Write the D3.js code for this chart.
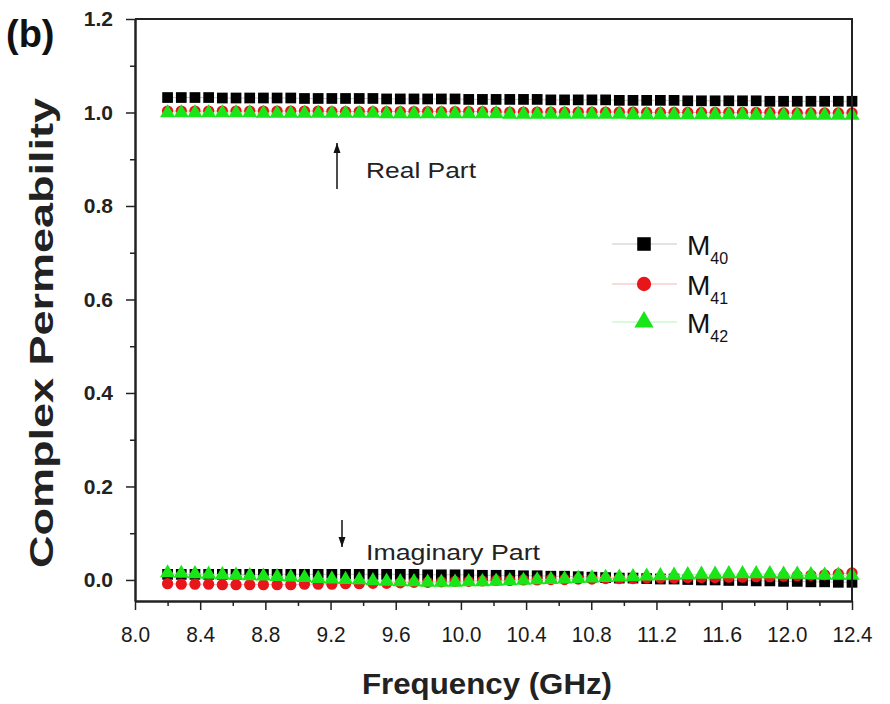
<!DOCTYPE html>
<html lang="en">
<head>
<meta charset="utf-8">
<title>Complex Permeability</title>
<script src="https://d3js.org/d3.v7.min.js"></script>
<style>
  body { margin: 0; background: #fff; }
  text { font-family: "Liberation Sans", Arial, sans-serif; }
</style>
</head>
<body>
<script>
const width = 890, height = 704;
const plotLeft = 135, plotRight = 852, plotTop = 19, plotBottom = 601;

// frequency points (GHz)
const freq = [8.200, 8.284, 8.368, 8.452, 8.536, 8.620, 8.704, 8.788, 8.872, 8.956,
              9.040, 9.124, 9.208, 9.292, 9.376, 9.460, 9.544, 9.628, 9.712, 9.796,
              9.880, 9.964, 10.048, 10.132, 10.216, 10.300, 10.384, 10.468, 10.552, 10.636,
              10.720, 10.804, 10.888, 10.972, 11.056, 11.140, 11.224, 11.308, 11.392, 11.476,
              11.560, 11.644, 11.728, 11.812, 11.896, 11.980, 12.064, 12.148, 12.232, 12.316, 12.400];

// real part
const realM40 = [1.032, 1.032, 1.032, 1.032, 1.031, 1.031, 1.031, 1.031, 1.031, 1.031,
                 1.030, 1.030, 1.030, 1.030, 1.030, 1.030, 1.029, 1.029, 1.029, 1.029,
                 1.029, 1.029, 1.028, 1.028, 1.028, 1.028, 1.028, 1.028, 1.027, 1.027,
                 1.027, 1.027, 1.027, 1.026, 1.026, 1.026, 1.026, 1.026, 1.025, 1.025,
                 1.025, 1.025, 1.025, 1.025, 1.024, 1.024, 1.024, 1.024, 1.024, 1.024, 1.024];
const realM41 = [1.003, 1.003, 1.003, 1.003, 1.003, 1.003, 1.003, 1.003, 1.003, 1.003,
                 1.003, 1.003, 1.002, 1.002, 1.002, 1.002, 1.002, 1.002, 1.002, 1.002,
                 1.002, 1.002, 1.002, 1.002, 1.001, 1.001, 1.001, 1.001, 1.001, 1.001,
                 1.001, 1.001, 1.001, 1.001, 1.001, 1.000, 1.000, 1.000, 1.000, 1.000,
                 1.000, 1.000, 1.000, 1.000, 1.000, 0.999, 0.999, 0.999, 0.999, 0.999, 0.999];
const realM42 = [0.999, 0.999, 0.999, 0.999, 0.999, 0.999, 0.999, 0.998, 0.998, 0.998,
                 0.998, 0.998, 0.998, 0.998, 0.998, 0.998, 0.997, 0.997, 0.997, 0.997,
                 0.997, 0.997, 0.997, 0.997, 0.997, 0.996, 0.996, 0.996, 0.996, 0.996,
                 0.996, 0.996, 0.996, 0.996, 0.995, 0.995, 0.995, 0.995, 0.995, 0.995,
                 0.995, 0.995, 0.995, 0.994, 0.994, 0.994, 0.994, 0.994, 0.994, 0.994, 0.994];

// imaginary part
const imagM40 = [0.012, 0.012, 0.012, 0.012, 0.012, 0.012, 0.012, 0.012, 0.012, 0.012,
                 0.012, 0.012, 0.012, 0.012, 0.012, 0.012, 0.012, 0.012, 0.012, 0.011,
                 0.011, 0.011, 0.011, 0.010, 0.010, 0.010, 0.009, 0.009, 0.008, 0.008,
                 0.007, 0.006, 0.005, 0.004, 0.004, 0.003, 0.002, 0.002, 0.001, 0.000,
                 0.000, -0.001, -0.001, -0.002, -0.002, -0.003, -0.003, -0.004, -0.004, -0.005, -0.005];
const imagM41 = [-0.008, -0.009, -0.009, -0.009, -0.010, -0.010, -0.010, -0.010, -0.010, -0.010,
                 -0.009, -0.009, -0.009, -0.008, -0.008, -0.007, -0.007, -0.006, -0.005, -0.005,
                 -0.004, -0.003, -0.003, -0.002, -0.001, -0.001, 0.000, 0.000, 0.001, 0.001,
                 0.002, 0.002, 0.003, 0.003, 0.003, 0.004, 0.004, 0.004, 0.005, 0.005,
                 0.005, 0.006, 0.006, 0.007, 0.007, 0.008, 0.009, 0.010, 0.011, 0.013, 0.015];
const imagM42 = [0.015, 0.014, 0.013, 0.012, 0.011, 0.010, 0.009, 0.008, 0.007, 0.006,
                 0.005, 0.003, 0.002, 0.001, 0.000, -0.002, -0.003, -0.004, -0.004, -0.005,
                 -0.005, -0.005, -0.004, -0.004, -0.003, -0.002, -0.001, 0.000, 0.001, 0.002,
                 0.003, 0.004, 0.005, 0.006, 0.007, 0.008, 0.009, 0.010, 0.011, 0.012,
                 0.012, 0.013, 0.013, 0.013, 0.013, 0.012, 0.012, 0.011, 0.010, 0.010, 0.010];

const xTicks = [8.0, 8.4, 8.8, 9.2, 9.6, 10.0, 10.4, 10.8, 11.2, 11.6, 12.0, 12.4];
const xMinor = [8.2, 8.6, 9.0, 9.4, 9.8, 10.2, 10.6, 11.0, 11.4, 11.8, 12.2];
const yTicks = [0.0, 0.2, 0.4, 0.6, 0.8, 1.0, 1.2];
const yMinor = [0.1, 0.3, 0.5, 0.7, 0.9, 1.1];

const seriesNames = ["M40", "M41", "M42"];
const colors = ["#000000", "#e8161b", "#19e619"];
const lineColors = ["#c8c8c8", "#f4b8b8", "#b8f4b8"];
const shapes = [d3.symbolSquare, d3.symbolCircle, d3.symbolTriangle];
const shapeSizes = [115, 100, 100];

const x = d3.scaleLinear().domain([8.0, 12.4]).range([plotLeft, plotRight]);
const y = d3.scaleLinear().domain([-0.045, 1.2]).range([plotBottom, plotTop]);

const svg = d3.select("body").append("svg")
    .attr("width", width).attr("height", height);

// data series
const groups = [
  [realM40, imagM40],
  [realM41, imagM41],
  [realM42, imagM42]
];

const line = d3.line().x(d => x(d[0])).y(d => y(d[1]));

groups.forEach((g, i) => {
  g.forEach(vals => {
    const pts = freq.map((f, k) => [f, vals[k]]);
    svg.append("path")
      .datum(pts)
      .attr("d", line)
      .attr("fill", "none")
      .attr("stroke", lineColors[i])
      .attr("stroke-width", 1);
    svg.append("g").selectAll("path")
      .data(pts)
      .join("path")
      .attr("transform", d => `translate(${x(d[0])},${y(d[1])})`)
      .attr("d", d3.symbol().type(shapes[i]).size(shapeSizes[i]))
      .attr("fill", colors[i]);
  });
});

// axes
const axisStyle = g => {
  g.selectAll(".domain").attr("stroke", "#222").attr("stroke-width", 2);
  g.selectAll(".tick line").attr("stroke", "#222").attr("stroke-width", 1.5);
};

svg.append("g")
  .attr("transform", `translate(0,${plotBottom})`)
  .call(d3.axisBottom(x).tickValues(xTicks).tickFormat(d3.format(".1f")).tickSize(9).tickSizeOuter(0).tickPadding(16))
  .call(axisStyle)
  .call(g => g.selectAll("text").attr("font-size", 22).attr("fill", "#1a1a1a")
    .attr("textLength", d => d >= 10 ? 40 : 29).attr("lengthAdjust", "spacingAndGlyphs"));

svg.append("g")
  .attr("transform", `translate(0,${plotBottom})`)
  .call(d3.axisBottom(x).tickValues(xMinor).tickFormat("").tickSize(5).tickSizeOuter(0))
  .call(axisStyle);

svg.append("g")
  .attr("transform", `translate(${plotLeft},0)`)
  .call(d3.axisLeft(y).tickValues(yTicks).tickFormat(d3.format(".1f")).tickSize(9).tickSizeOuter(0).tickPadding(13))
  .call(axisStyle)
  .call(g => g.selectAll("text").attr("font-size", 21).attr("font-weight", "bold").attr("fill", "#222"));

svg.append("g")
  .attr("transform", `translate(${plotLeft},0)`)
  .call(d3.axisLeft(y).tickValues(yMinor).tickFormat("").tickSize(5).tickSizeOuter(0))
  .call(axisStyle);

// frame top & right
svg.append("path")
  .attr("d", `M${plotLeft},${plotTop}H${plotRight}V${plotBottom}`)
  .attr("fill", "none").attr("stroke", "#222").attr("stroke-width", 2);

// titles
svg.append("text")
  .attr("x", 487).attr("y", 694)
  .attr("text-anchor", "middle")
  .attr("font-size", 30).attr("font-weight", "bold").attr("fill", "#222")
  .attr("textLength", 250).attr("lengthAdjust", "spacingAndGlyphs")
  .text("Frequency (GHz)");

svg.append("text")
  .attr("transform", "translate(53,333) rotate(-90)")
  .attr("text-anchor", "middle")
  .attr("font-size", 33).attr("font-weight", "bold").attr("fill", "#222")
  .attr("textLength", 470).attr("lengthAdjust", "spacingAndGlyphs")
  .text("Complex Permeability");

svg.append("text")
  .attr("x", 6).attr("y", 47)
  .attr("font-size", 38).attr("font-weight", "bold").attr("fill", "#111")
  .text("(b)");

// annotations
const arrow = (x0, y0, y1) => {
  svg.append("line").attr("x1", x0).attr("x2", x0).attr("y1", y0).attr("y2", y1)
    .attr("stroke", "#111").attr("stroke-width", 1.5);
  const dir = y1 < y0 ? 1 : -1;
  svg.append("path")
    .attr("d", `M${x0},${y1}L${x0 - 3.5},${y1 + dir * 10}L${x0 + 3.5},${y1 + dir * 10}Z`)
    .attr("fill", "#111");
};
arrow(337, 189, 143);
svg.append("text").attr("x", 366).attr("y", 178)
  .attr("font-size", 22).attr("fill", "#222")
  .attr("textLength", 110).attr("lengthAdjust", "spacingAndGlyphs").text("Real Part");

arrow(342, 520, 547);
svg.append("text").attr("x", 366).attr("y", 560)
  .attr("font-size", 22).attr("fill", "#222")
  .attr("textLength", 174).attr("lengthAdjust", "spacingAndGlyphs").text("Imaginary Part");

// legend
const legendY = [244, 284, 322];
seriesNames.forEach((name, i) => {
  const lg = svg.append("g").attr("transform", `translate(612,${legendY[i]})`);
  lg.append("line").attr("x1", 0).attr("x2", 65).attr("y1", 0).attr("y2", 0)
    .attr("stroke", lineColors[i]).attr("stroke-width", 1.2);
  lg.append("path").attr("transform", "translate(32,0)")
    .attr("d", d3.symbol().type(shapes[i]).size(shapeSizes[i] * 1.6))
    .attr("fill", colors[i]);
  const t = lg.append("text").attr("x", 75).attr("y", 11)
    .attr("font-size", 28).attr("fill", "#111");
  t.append("tspan").text(name[0]);
  t.append("tspan").attr("font-size", 16).attr("dy", 9).text(name.slice(1));
});
</script>
</body>
</html>
